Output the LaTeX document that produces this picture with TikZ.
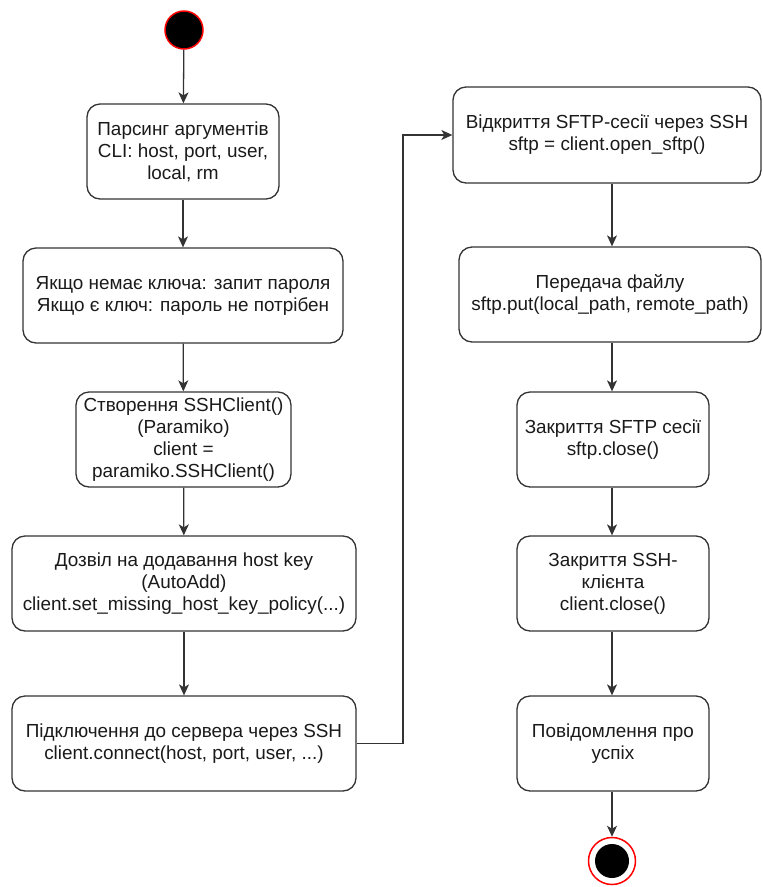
\documentclass[tikz,border=0pt]{standalone}
\usepackage{fontspec}
\setmainfont{Liberation Sans}
\usetikzlibrary{arrows.meta}
\definecolor{edge}{HTML}{333333}
\definecolor{txt}{HTML}{1A1A1A}
\tikzset{
  stepbox/.style={draw=edge, line width=1.3pt, rounded corners=13pt, align=center,
    text=txt, inner sep=2pt, font=\fontsize{18.9}{22}\selectfont, minimum height=95pt},
  flow/.style={draw=edge, line width=1.3pt, -{Stealth[length=11pt,width=10pt,inset=3pt]}},
}
\begin{document}
\begin{tikzpicture}[x=1pt,y=-1pt]
\useasboundingbox (0,0) rectangle (763,887);
% start
\node[circle, fill=black, draw=red, line width=1.5pt, minimum size=38pt, inner sep=0pt] (start) at (184,30) {};
% left column
\node[stepbox, minimum width=192pt] (b1) at (183,151.5) {Парсинг аргументів\\CLI: host, port, user,\\local, rm};
\node[stepbox, minimum width=320pt] (b2) at (183,295.5) {Якщо немає ключа: запит пароля\\Якщо є ключ: пароль не потрібен};
\node[stepbox, minimum width=215pt] (b3) at (183.5,439.5) {Створення SSHClient()\\(Paramiko)\\client =\\paramiko.SSHClient()};
\node[stepbox, minimum width=344pt] (b4) at (184,583.5) {Дозвіл на додавання host key\\(AutoAdd)\\client.set\_missing\_host\_key\_policy(...)};
\node[stepbox, minimum width=344pt] (b5) at (184,743.5) {Підключення до сервера через SSH\\client.connect(host, port, user, ...)};
% right column
\node[stepbox, minimum width=308pt, minimum height=96pt] (b6) at (607,135) {Відкриття SFTP-сесії через SSH\\sftp = client.open\_sftp()};
\node[stepbox, minimum width=302pt] (b7) at (610,294.5) {Передача файлу\\sftp.put(local\_path, remote\_path)};
\node[stepbox, minimum width=192pt] (b8) at (613,439.5) {Закриття SFTP сесії\\sftp.close()};
\node[stepbox, minimum width=192pt] (b9) at (613,583.5) {Закриття SSH-\\клієнта\\client.close()};
\node[stepbox, minimum width=192pt] (b10) at (613,743.5) {Повідомлення про\\успіх};
% end
\node[circle, draw=red, line width=1.5pt, fill=white, minimum size=47pt, inner sep=0pt] (stop) at (612,861) {};
\node[circle, fill=black, minimum size=34pt, inner sep=0pt] (stopin) at (stop.center) {};
\coordinate (rx) at (612,0);
\coordinate (elbow) at (403,0);
% connectors
\draw[flow] (start) -- (b1);
\draw[flow] (b1) -- (b2);
\draw[flow] (b2) -- (b3);
\draw[flow] (b3) -- (b4);
\draw[flow] (b4) -- (b5);
\draw[flow] (b5.east) -- (b5.east -| elbow) -- (b6.west -| elbow) -- (b6.west);
\draw[flow] (b6.south -| rx) -- (b7.north -| rx);
\draw[flow] (b7.south -| rx) -- (b8.north -| rx);
\draw[flow] (b8.south -| rx) -- (b9.north -| rx);
\draw[flow] (b9.south -| rx) -- (b10.north -| rx);
\draw[flow] (b10.south -| rx) -- (stop.north);
\end{tikzpicture}
\end{document}
